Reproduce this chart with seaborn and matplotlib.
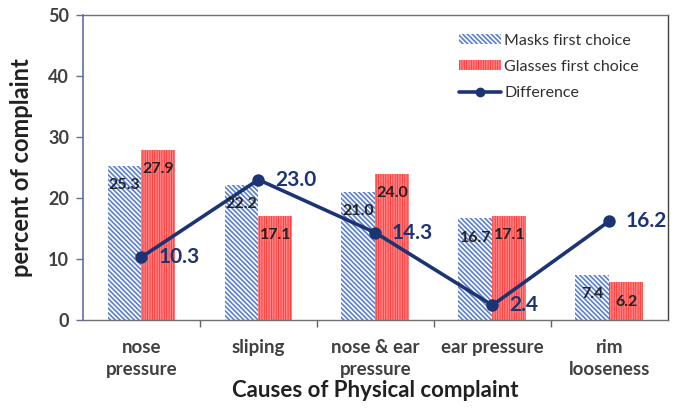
import matplotlib
matplotlib.use("Agg")
import matplotlib.pyplot as plt
import seaborn as sns
import pandas as pd
from matplotlib.patches import Patch
from matplotlib.lines import Line2D

categories = ["nose\npressure", "sliping", "nose & ear\npressure", "ear pressure", "rim\nlooseness"]
masks = [25.3, 22.2, 21.0, 16.7, 7.4]
glasses = [27.9, 17.1, 24.0, 17.1, 6.2]
diff = [10.3, 23.0, 14.3, 2.4, 16.2]
series = ["Masks first choice", "Glasses first choice"]
yticks = [0, 10, 20, 30, 40, 50]

sns.set_style("white")
plt.rcParams["font.family"] = ["Lato", "DejaVu Sans"]
plt.rcParams["hatch.linewidth"] = 1.2

df = pd.DataFrame({
    "cat": categories * 2,
    "val": masks + glasses,
    "series": [series[0]] * 5 + [series[1]] * 5,
})

fig = plt.figure(figsize=(6.76, 4.08), dpi=100)
ax = fig.add_axes([0.1228, 0.216, 0.865, 0.747])

sns.barplot(data=df, x="cat", y="val", hue="series", order=categories,
            hue_order=series, width=0.58, gap=0, ax=ax, legend=False,
            palette=["white", "#ff2a2a"], linewidth=0, saturation=1)

mask_c = "#5a7fd2"
red_c = "#ff2a2a"
red_h = "#ff8080"
mask_hatch = "\\" * 7
red_hatch = "|" * 7
nb = len(categories)
for i, p in enumerate(ax.patches[:2 * nb]):
    if i < nb:
        p.set_facecolor("white")
        p.set_edgecolor(mask_c)
        p.set_hatch(mask_hatch)
    else:
        p.set_facecolor(red_c)
        p.set_edgecolor(red_h)
        p.set_hatch(red_hatch)
    p.set_linewidth(0)
    h = p.get_height()
    ax.annotate(f"{h:.1f}", (p.get_x() + p.get_width() / 2, h),
                xytext=(0, -14), textcoords="offset points",
                ha="center", va="center", fontsize=11.5, fontweight="bold",
                color="#222222")

navy = "#1c3473"
sns.pointplot(x=categories, y=diff, order=categories, color=navy, ax=ax,
              markers="o", linewidth=2.6, markersize=7)
for i, d in enumerate(diff):
    ax.annotate(f"{d:.1f}", (i, d), xytext=(12, 0), textcoords="offset points",
                ha="left", va="center", fontsize=15, fontweight="bold", color=navy)

ax.set_xlim(-0.5, nb - 0.5)
ax.set_ylim(0, 50)
ax.set_yticks(yticks)
ax.set_yticklabels([str(t) for t in yticks], fontsize=13, fontweight="bold", color="#404040")

ax.set_xticks([i + 0.5 for i in range(nb - 1)])
ax.set_xticklabels([])
ax.set_xticks(range(nb), minor=True)
ax.set_xticklabels(categories, minor=True, fontsize=13.5, fontweight="bold",
                   color="#404040", linespacing=1.35)
ax.tick_params(axis="x", which="minor", length=0, pad=14)
ax.tick_params(axis="x", which="major", length=5, width=1, color="#606060", direction="out")
ax.tick_params(axis="y", length=5, width=1, color="#6070a0", direction="out", pad=5)
ax.tick_params(bottom=True, left=True)

for s in ["top", "right", "bottom"]:
    ax.spines[s].set_visible(True)
    ax.spines[s].set_color("#707070")
    ax.spines[s].set_linewidth(1)
ax.spines["right"].set_color("#404040")
ax.spines["left"].set_color("#6070a0")
ax.spines["left"].set_linewidth(1.2)

ax.set_ylabel("percent of complaint", fontsize=17, fontweight="bold", color="#202020", labelpad=11)
ax.set_xlabel("Causes of Physical complaint", fontsize=16, fontweight="bold", color="#202020", labelpad=1)

handles = [
    Patch(facecolor="white", edgecolor=mask_c, hatch=mask_hatch, linewidth=0, label=series[0]),
    Patch(facecolor=red_c, edgecolor=red_h, hatch=red_hatch, linewidth=0, label=series[1]),
    Line2D([0], [0], color=navy, lw=2.6, marker="o", markersize=6, label="Difference"),
]
ax.legend(handles=handles, loc="upper right", bbox_to_anchor=(0.975, 0.985), frameon=False,
          fontsize=11.5, handlelength=2.6, handleheight=0.6, labelspacing=0.75,
          handletextpad=0.2, labelcolor="#303030")

fig.savefig("out.png", dpi=100)
